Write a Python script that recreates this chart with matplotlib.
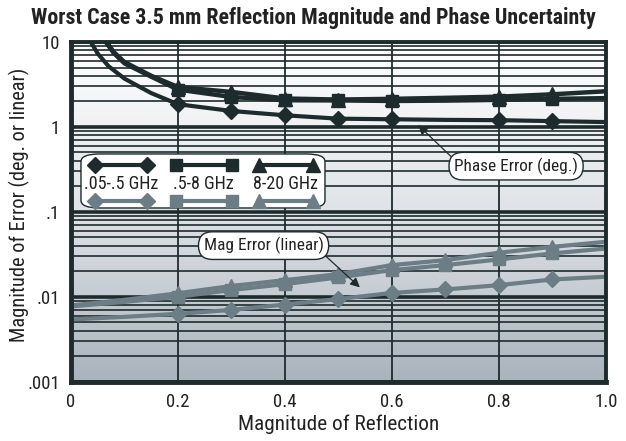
import numpy as np
import matplotlib
matplotlib.use("Agg")
import matplotlib.pyplot as plt
from matplotlib import font_manager as fm
from matplotlib.patches import FancyBboxPatch
from matplotlib.lines import Line2D
from matplotlib.ticker import FixedLocator, NullFormatter
from matplotlib.colors import LinearSegmentedColormap

# ---------------- data ----------------
x_phase_lo = [0.03, 0.04, 0.05, 0.07, 0.1, 0.15, 0.2, 0.3, 0.4, 0.5, 0.6, 0.7, 0.8, 0.9, 1.0]
phase_lo = [12.5, 9.3, 7.3, 5.2, 3.7, 2.5, 1.85, 1.54, 1.37, 1.25, 1.23, 1.21, 1.2, 1.17, 1.14]
x_phase_hi = [0.055, 0.065, 0.08, 0.1, 0.15, 0.2, 0.3, 0.4, 0.5, 0.6, 0.7, 0.8, 0.9, 1.0]
phase_mid = [13.0, 10.0, 7.4, 5.6, 3.9, 2.75, 2.25, 2.06, 2.05, 2.02, 2.04, 2.08, 2.14, 2.18]
phase_high = [13.0, 10.3, 7.6, 5.8, 4.0, 2.95, 2.58, 2.16, 2.1, 2.14, 2.2, 2.27, 2.42, 2.63]

x_mag = [0.0, 0.1, 0.2, 0.3, 0.4, 0.5, 0.6, 0.7, 0.8, 0.9, 1.0]
mag_lo = [0.0054, 0.0058, 0.0063, 0.0070, 0.0081, 0.0094, 0.0111, 0.0122, 0.0137, 0.0160, 0.0172]
mag_mid = [0.0077, 0.0087, 0.0100, 0.0120, 0.0141, 0.0169, 0.0206, 0.0236, 0.0275, 0.0324, 0.0370]
mag_high = [0.0079, 0.0092, 0.0110, 0.0134, 0.0157, 0.0185, 0.0236, 0.0270, 0.0330, 0.0387, 0.0444]

phase_marks = [0.2, 0.3, 0.4, 0.5, 0.6, 0.8, 0.9]
mag_marks = [0.2, 0.3, 0.4, 0.5, 0.6, 0.7, 0.8, 0.9]

band_labels = [".05-.5 GHz", ".5-8 GHz", "8-20 GHz"]
band_markers = ["D", "s", "^"]
x_ticks = [0, 0.2, 0.4, 0.6, 0.8, 1.0]
x_ticklabels = ["0", "0.2", "0.4", "0.6", "0.8", "1.0"]
y_ticks = [0.001, 0.01, 0.1, 1, 10]
y_ticklabels = [".001", ".01", ".1", "1", "10"]

# ---------------- style ----------------
DARK = "#1e2b2c"
LIGHT = "#6d7d86"
TXT = "#222222"

# pick a narrow font if one exists
FONT = dict(family="Roboto")
SCALE = 1.0
cands = []
for f in fm.fontManager.ttflist:
    st = str(f.stretch)
    if ("Narrow" in f.name or "Condensed" in f.name or st in
            ("condensed", "semi-condensed", "extra-condensed", "ultra-condensed")):
        cands.append(f)
if cands:
    pref = ["Liberation Sans Narrow", "Roboto Condensed", "Open Sans Condensed",
            "Noto Sans Condensed", "DejaVu Sans Condensed", "DejaVu Sans"]
    chosen = None
    for p in pref:
        for f in cands:
            if f.name == p:
                chosen = f
                break
        if chosen:
            break
    if chosen is None:
        chosen = cands[0]
    FONT = dict(family=chosen.name, stretch=chosen.stretch)
    SCALE = 1.08

fig = plt.figure(figsize=(6.26, 4.41), dpi=100)
ax = fig.add_axes([0.1134, 0.1345, 0.8546, 0.7703])
ax.set_yscale("log")
ax.set_xlim(0, 1.0)
ax.set_ylim(0.001, 10)

# gradient background
grad = np.linspace(0, 1, 256).reshape(-1, 1)
cmap = LinearSegmentedColormap.from_list("bg", ["#ffffff", "#dfe3e7", "#a9b3bc"])
ax.imshow(grad, extent=[0, 1, 0, 1], transform=ax.transAxes, cmap=cmap,
          aspect="auto", zorder=0, origin="upper")

# grid
ax.yaxis.set_minor_locator(FixedLocator([m * 10.0 ** e for e in range(-3, 1) for m in range(2, 10)]))
ax.yaxis.set_minor_formatter(NullFormatter())
ax.grid(which="minor", axis="y", color=DARK, lw=1.2, zorder=1)
ax.grid(which="major", axis="y", color=DARK, lw=2.6, zorder=1)
ax.grid(which="major", axis="x", color=DARK, lw=1.3, zorder=1)

ax.set_xticks(x_ticks)
ax.set_xticklabels(x_ticklabels, fontsize=12.5 * SCALE, color=TXT, **FONT)
ax.set_yticks(y_ticks)
ax.set_yticklabels(y_ticklabels, fontsize=12.5 * SCALE, color=TXT, **FONT)
ax.tick_params(which="both", length=0, pad=8)

for side, lw in [("left", 3.5), ("bottom", 3.5), ("top", 2.8), ("right", 2.8)]:
    ax.spines[side].set_linewidth(lw)
    ax.spines[side].set_color(DARK)
    ax.spines[side].set_zorder(5)

def idx(xs, marks):
    return [xs.index(m) for m in marks]

# phase (dark)
ax.plot(x_phase_lo, phase_lo, color=DARK, lw=3, marker="D", ms=8,
        markevery=idx(x_phase_lo, phase_marks), zorder=3)
ax.plot(x_phase_hi, phase_mid, color=DARK, lw=3.2, marker="s", ms=8,
        markevery=idx(x_phase_hi, phase_marks), zorder=3)
ax.plot(x_phase_hi, phase_high, color=DARK, lw=3.2, marker="^", ms=10,
        markevery=idx(x_phase_hi, phase_marks), zorder=3)
# magnitude (light)
ax.plot(x_mag, mag_lo, color=LIGHT, lw=3, marker="D", ms=8,
        markevery=idx(x_mag, mag_marks), zorder=3)
ax.plot(x_mag, mag_mid, color=LIGHT, lw=3, marker="s", ms=8,
        markevery=idx(x_mag, mag_marks), zorder=3)
ax.plot(x_mag, mag_high, color=LIGHT, lw=3, marker="^", ms=10,
        markevery=idx(x_mag, mag_marks), zorder=3)

# annotations
bbox = dict(boxstyle="round,pad=0.3,rounding_size=0.8", fc="white", ec=DARK, lw=1.0)
ax.annotate("Phase Error (deg.)", xy=(0.649, 1.05), xytext=(0.832, 0.345),
            fontsize=11.5 * SCALE, ha="center", va="center", bbox=bbox, zorder=6, color=TXT,
            arrowprops=dict(arrowstyle="-|>", color=DARK, lw=0.9, mutation_scale=14,
                            shrinkA=0, shrinkB=0, relpos=(0.02, 0.75)), **FONT)
ax.annotate("Mag Error (linear)", xy=(0.54, 0.0129), xytext=(0.36, 0.040),
            fontsize=11.5 * SCALE, ha="center", va="center", bbox=bbox, zorder=6, color=TXT,
            arrowprops=dict(arrowstyle="-|>", color=DARK, lw=0.9, mutation_scale=14,
                            shrinkA=0, shrinkB=0, relpos=(0.97, 0.2)), **FONT)

# custom legend
def fx(px):
    return (px - 71) / 535.0
def fy(py):
    return (381.7 - py) / 339.7

box = FancyBboxPatch((fx(81), fy(208)), fx(325) - fx(81), fy(154) - fy(208),
                     boxstyle="round,pad=0,rounding_size=0.035", transform=ax.transAxes,
                     fc="white", ec=DARK, lw=1.0, zorder=6, mutation_aspect=339.7 / 535)
ax.add_patch(box)
rows = [(95, 147, 121), (176, 232, 203), (259, 313, 286)]
for (x0, x1, xc), mk, lab in zip(rows, band_markers, band_labels):
    ms = 10 if mk == "^" else 8
    for color, py in [(DARK, 165.5), (LIGHT, 201)]:
        ax.add_line(Line2D([fx(x0), fx(x1)], [fy(py), fy(py)], transform=ax.transAxes,
                           color=color, lw=3, marker=mk, ms=ms, zorder=7))
    ax.text(fx(xc), fy(184), lab, transform=ax.transAxes, ha="center", va="center",
            fontsize=12 * SCALE, color=TXT, zorder=7, **FONT)

ax.set_xlabel("Magnitude of Reflection", fontsize=14.2 * SCALE, color=TXT, labelpad=3, **FONT)
ax.set_ylabel("Magnitude of Error (deg. or linear)", fontsize=13.6 * SCALE, color=TXT, **FONT)
ax.yaxis.set_label_coords(-0.076, 0.52)
fig.text(0.5, 0.96, "Worst Case 3.5 mm Reflection Magnitude and Phase Uncertainty",
         ha="center", va="center", fontsize=14.6 * SCALE, fontweight="bold", color=TXT, **FONT)

fig.savefig("out.png", dpi=100)
